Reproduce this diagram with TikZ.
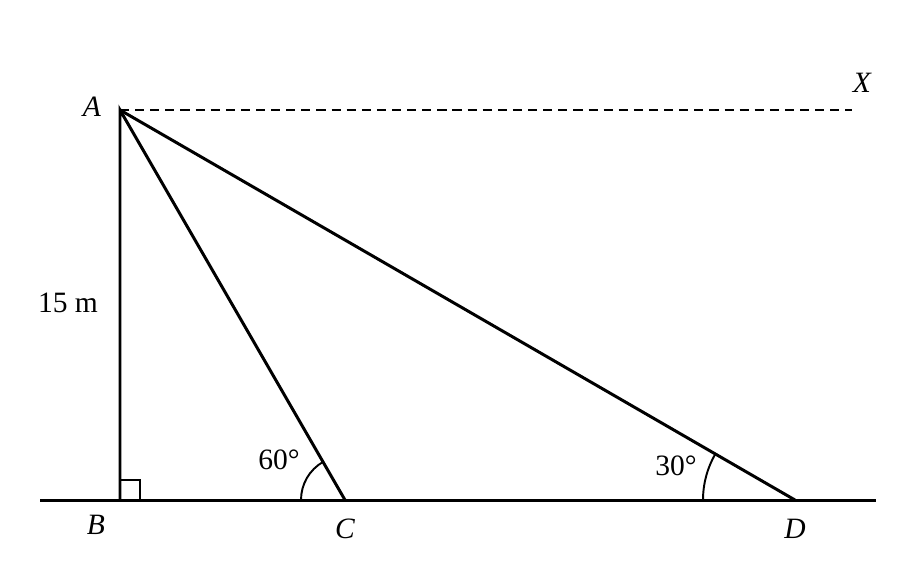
\documentclass[tikz,border=0pt]{standalone}
\usepackage{fontspec}
\setmainfont{Liberation Serif}
\usepackage{tikz}

\begin{document}
\begin{tikzpicture}%
  \tikzstyle{txt}=[inner sep=0,font=\fontsize{16.8}{20}\selectfont]
  \tikzstyle{vertex}=[txt,font=\fontsize{16.8}{20}\selectfont\itshape]
  \tikzstyle{side}=[line width=1.7pt]
  \tikzstyle{anglemark}=[line width=1.1pt]
  \useasboundingbox (0,0) rectangle (18.28,11.36);
  \coordinate (B) at (2.4,1.36);
  \coordinate (A) at (2.4,9.16);
  \coordinate (C) at (6.9,1.36);
  \coordinate (D) at (15.9,1.36);
  \coordinate (gl) at (0.8,1.36);
  \coordinate (gr) at (17.52,1.36);
  \coordinate (hx) at (17.04,9.16);
  % ground, tower and lines of sight
  \draw[side] (gl) -- (gr);
  \draw[side] (B) -- (A) -- (C);
  \draw[side] (A) -- (D);
  \draw[anglemark,dash pattern=on 5.2pt off 3.4pt] (A) -- (hx);
  % angle marks
  \draw[anglemark] (B) rectangle ++(0.4,0.4);
  \draw[anglemark] (C) ++(-0.88,0) arc (180:120:0.88);
  \draw[anglemark] (D) ++(-1.84,0) arc (180:150:1.84);
  % labels
  \node(lA)[vertex] at (1.84,9.22) {A};
  \node(lB)[vertex] at (1.92,0.86) {B};
  \node(lC)[vertex] at (6.9,0.78) {C};
  \node(lD)[vertex] at (15.9,0.78) {D};
  \node(lX)[vertex] at (17.24,9.7) {X};
  \node(h)[txt] at (1.36,5.3) {15 m};
  \node(a60)[txt] at (5.58,2.16) {60°};
  \node(a30)[txt] at (13.52,2.04) {30°};
\end{tikzpicture}
\end{document}
